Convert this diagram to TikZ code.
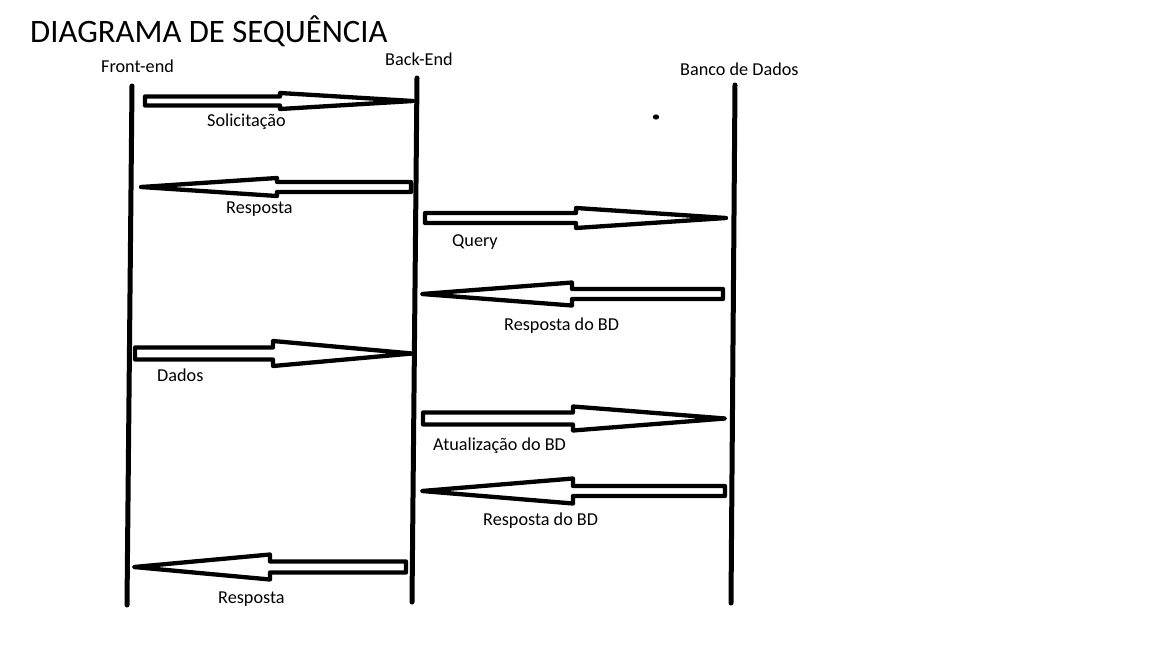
\documentclass[tikz,border=0pt]{standalone}
\usepackage{fontspec}
\setmainfont{Carlito}
\begin{document}
\begin{tikzpicture}[x=1pt,y=-1pt,
  lifeline/.style={line width=5pt,line cap=round},
  barrow/.style={line width=4.3pt,line join=round},
  lbl/.style={anchor=base west,inner sep=0pt,font=\fontsize{18.2}{21}\selectfont},
  ttl/.style={anchor=base west,inner sep=0pt,font=\fontsize{32.7}{38}\selectfont}]
\useasboundingbox[fill=white] (0,0) rectangle (1152,648);
\newcommand\blockarrow[7]{% tail x, head x, tip x, y, body half, head half, name
  \draw[barrow] (#1,{#4-#5}) -- (#2,{#4-#5}) -- (#2,{#4-#6}) -- (#3,#4) coordinate (#7)
    -- (#2,{#4+#6}) -- (#2,{#4+#5}) -- (#1,{#4+#5}) -- cycle;}
% title
\node[ttl] (title) at (30,42) {DIAGRAMA DE SEQUÊNCIA};
% participants
\node[lbl] (fe) at (101,72) {Front-end};
\node[lbl] (be) at (385,65) {Back-End};
\node[lbl] (db) at (680,75) {Banco de Dados};
% lifelines
\coordinate (feT) at (132,86);  \coordinate (feB) at (127,605);
\coordinate (beT) at (417,78);  \coordinate (beB) at (412,602);
\coordinate (dbT) at (735,85);  \coordinate (dbB) at (731,603);
\draw[lifeline] (feT) -- (feB);
\draw[lifeline] (beT) -- (beB);
\draw[lifeline] (dbT) -- (dbB);
% stray dot
\fill (656,117) ellipse (3.2 and 2.6);
% messages
\blockarrow{145}{280}{413}{101}{4.5}{8}{m1}
\node[lbl] (l1) at (207,126) {Solicitação};
\blockarrow{411}{277}{141}{187}{5}{9}{m2}
\node[lbl] (l2) at (226,213) {Resposta};
\blockarrow{425}{576}{726}{218}{5}{10}{m3}
\node[lbl] (l3) at (452,246) {Query};
\blockarrow{723}{572}{422}{294}{5}{11.5}{m4}
\node[lbl] (l4) at (504,330) {Resposta do BD};
\blockarrow{135}{273}{412}{353.5}{6}{12.5}{m5}
\node[lbl] (l5) at (157,381) {Dados};
\blockarrow{423}{573}{725}{418.5}{6}{12}{m6}
\node[lbl] (l6) at (433,450) {Atualização do BD};
\blockarrow{725}{573}{422}{491}{5}{12.5}{m7}
\node[lbl] (l7) at (483,525) {Resposta do BD};
\blockarrow{406}{270}{134}{567}{5.5}{12.5}{m8}
\node[lbl] (l8) at (218,603) {Resposta};
\end{tikzpicture}
\end{document}
